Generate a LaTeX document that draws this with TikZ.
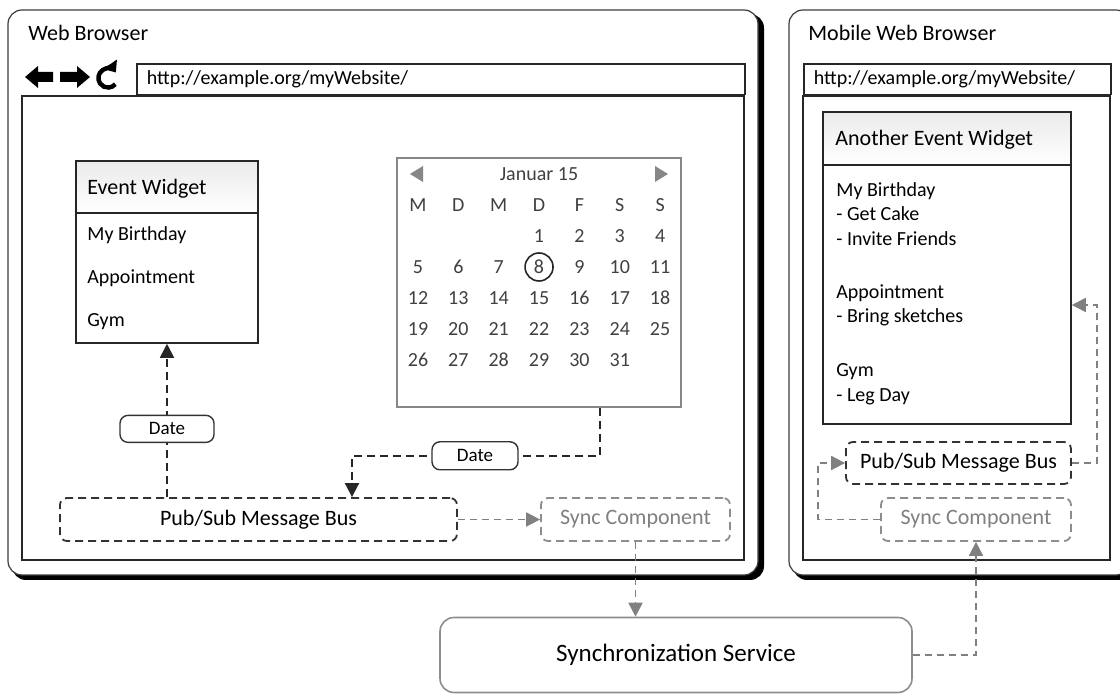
\documentclass[tikz,border=0pt]{standalone}
\usepackage{fontspec}
\setmainfont{Carlito}
\usetikzlibrary{arrows.meta,positioning,calc}

\definecolor{frameedge}{RGB}{60,60,60}
\definecolor{calgray}{RGB}{135,135,135}
\definecolor{synccol}{RGB}{128,128,128}
\definecolor{calink}{RGB}{64,64,64}

\tikzstyle{widget}=[draw=black!85, line width=0.8pt, inner sep=0pt]
\tikzstyle{whead}=[draw=black!85, line width=0.8pt, top color=black!8, bottom color=white, anchor=north]
\tikzstyle{headtext}=[font=\fontsize{11pt}{13pt}\selectfont, anchor=west, inner sep=0pt]
\tikzstyle{item}=[font=\fontsize{10pt}{12pt}\selectfont, anchor=west, inner sep=0pt, text height=1.6ex, text depth=.45ex]
\tikzstyle{calday}=[font=\fontsize{10pt}{12pt}\selectfont, text=calink, inner sep=0pt]
\tikzstyle{busbox}=[draw=black!80, line width=0.9pt, dash pattern=on 4pt off 2.5pt, rounded corners=3.5pt, minimum height=21.5pt, font=\fontsize{11pt}{13pt}\selectfont]
\tikzstyle{syncbox}=[busbox, draw=synccol!90, text=synccol]
\tikzstyle{datelbl}=[draw=black!80, solid, line width=0.7pt, fill=white, rounded corners=4pt, minimum height=13.5pt, font=\fontsize{9.5pt}{11pt}\selectfont, inner sep=0pt, text=black]
\tikzstyle{busline}=[black!85, line width=0.9pt, dash pattern=on 4pt off 2.5pt]
\tikzstyle{syncline}=[synccol, line width=0.9pt, dash pattern=on 3.5pt off 2.5pt]
\tikzstyle{urlbar}=[draw=black!85, line width=0.8pt, minimum height=13.5pt, inner xsep=5pt, align=left, font=\fontsize{10pt}{12pt}\selectfont, anchor=north west]
\tikzstyle{title}=[font=\fontsize{11pt}{13pt}\selectfont, anchor=west, inner sep=0pt]
\tikzstyle{tip}=[-{Triangle[length=7pt,width=7pt]}]

\begin{document}
\begin{tikzpicture}[x=0.5pt,y=-0.5pt]
\useasboundingbox (0,0) rectangle (1120,694);
\clip (0,0) rectangle (1120,694);

% browser frames
\fill[black, rounded corners=7pt] (12,14) rectangle (764,580);
\draw[frameedge, line width=0.6pt, fill=white, rounded corners=7pt] (8,10) rectangle (758,575);
\fill[black, rounded corners=7pt] (793,14) rectangle (1135,580);
\draw[frameedge, line width=0.6pt, fill=white, rounded corners=7pt] (789,10) rectangle (1130,575);
\draw[black!85, line width=0.9pt] (22,96) rectangle (744,560);
\draw[black!85, line width=0.9pt] (803,96) rectangle (1110,560);

\node[title] (webtitle) at (28,33) {Web Browser};
\node[title] (mobtitle) at (808,33) {Mobile Web Browser};
\node[urlbar, text width=294pt] (url) at (136,63) {http://example.org/myWebsite/};
\node[urlbar, text width=143.5pt] (murl) at (803,63) {http://example.org/myWebsite/};

% back, forward, reload
\fill (25,77) -- (38,66) -- (38,72) -- (53,72) -- (53,82) -- (38,82) -- (38,88) -- cycle;
\fill (90,77) -- (77,66) -- (77,72) -- (60,72) -- (60,82) -- (77,82) -- (77,88) -- cycle;
\begin{scope}[shift={(108,78)}, x=1pt, y=1pt]
  \draw[line width=2.2pt, {Triangle[length=5pt,width=8pt]}-] (35:4.8) arc[start angle=35, end angle=320, radius=4.8];
\end{scope}

% event widget
\node[widget, minimum width=91pt, minimum height=91pt] (ew) at (167,252) {};
\node[whead, minimum width=91pt, minimum height=26pt] (ewhead) at (ew.north) {};
\node[headtext] (ewtitle) at (87,189) {Event Widget};
\node[item] (ew1) at (87,235) {My Birthday};
\node[item] (ew2) at (87,278) {Appointment};
\node[item] (ew3) at (87,321) {Gym};

% calendar
\node[draw=calgray, line width=0.8pt, minimum width=142pt, minimum height=124.5pt] (cal) at (539,282.5) {};
\node[calday] (calhead) at (539,174) {Januar 15};
\fill[calgray] (410,174) -- (423,166) -- (423,182) -- cycle;
\fill[calgray] (668,174) -- (655,166) -- (655,182) -- cycle;
\foreach \w [count=\i from 0] in {M,D,M,D,F,S,S}
  \node[calday] (wd\i) at ({418+40.35*\i},205) {\w};
\foreach \d in {1,...,31}{
  \pgfmathtruncatemacro{\c}{mod(\d+2,7)}
  \pgfmathtruncatemacro{\r}{(\d+2)/7}
  \node[calday] (d\d) at ({418+40.35*\c},{236+31*\r}) {\d};
}
\draw[black!85, line width=0.8pt] (d8) circle[radius=14];

% message bus and sync
\node[busbox, minimum width=198.5pt] (bus) at (258.5,519.5) {Pub/Sub Message Bus};
\node[syncbox, minimum width=94.5pt] (sync) at (635.5,519.5) {Sync Component};
\node[draw=synccol!90, line width=0.8pt, rounded corners=7pt, minimum width=236pt, minimum height=37.5pt, font=\fontsize{12.5pt}{15pt}\selectfont] (service) at (676,655) {Synchronization Service};

% mobile widget
\node[widget, minimum width=124pt, minimum height=156pt] (aew) at (947,268) {};
\node[whead, minimum width=124pt, minimum height=26.5pt] (aewhead) at (aew.north) {};
\node[headtext] (aewtitle) at (835,140) {Another Event Widget};
\node[item] (aew1) at (836,191) {My Birthday};
\node[item] (aew2) at (836,215) {- Get Cake};
\node[item] (aew3) at (836,240) {- Invite Friends};
\node[item] (aew4) at (836,293) {Appointment};
\node[item] (aew5) at (836,317) {- Bring sketches};
\node[item] (aew6) at (836,371) {Gym};
\node[item] (aew7) at (836,396) {- Leg Day};
\node[busbox, minimum width=112.5pt, minimum height=21pt] (mbus) at (958.5,463) {Pub/Sub Message Bus};
\node[syncbox, minimum width=95pt] (msync) at (976,519.5) {Sync Component};

% connectors
\coordinate (calout) at ([xshift=30.5pt]cal.south);
\coordinate (busin) at ([xshift=46.75pt]bus.north);
\coordinate (aewin) at ([yshift=-18.5pt]aew.east);
\draw[busline, tip] (bus.north -| ew.south) -- node[datelbl, pos=0.445, minimum width=47pt] (date1) {Date} (ew.south);
\draw[busline, tip] (calout) -- ++(0,48) -| node[datelbl, pos=0.252, minimum width=43pt, minimum height=14pt] (date2) {Date} (busin);
\draw[syncline, tip] (bus.east) -- (sync.west);
\draw[syncline, tip] (sync.south) -- (sync.south |- service.north);
\draw[syncline, tip] (service.east) -| (msync.south);
\draw[syncline, tip] (msync.west) -- ++(-62,0) |- (mbus.west);
\draw[syncline, tip] (mbus.east) -- ++(25,0) |- (aewin);
\end{tikzpicture}
\end{document}
